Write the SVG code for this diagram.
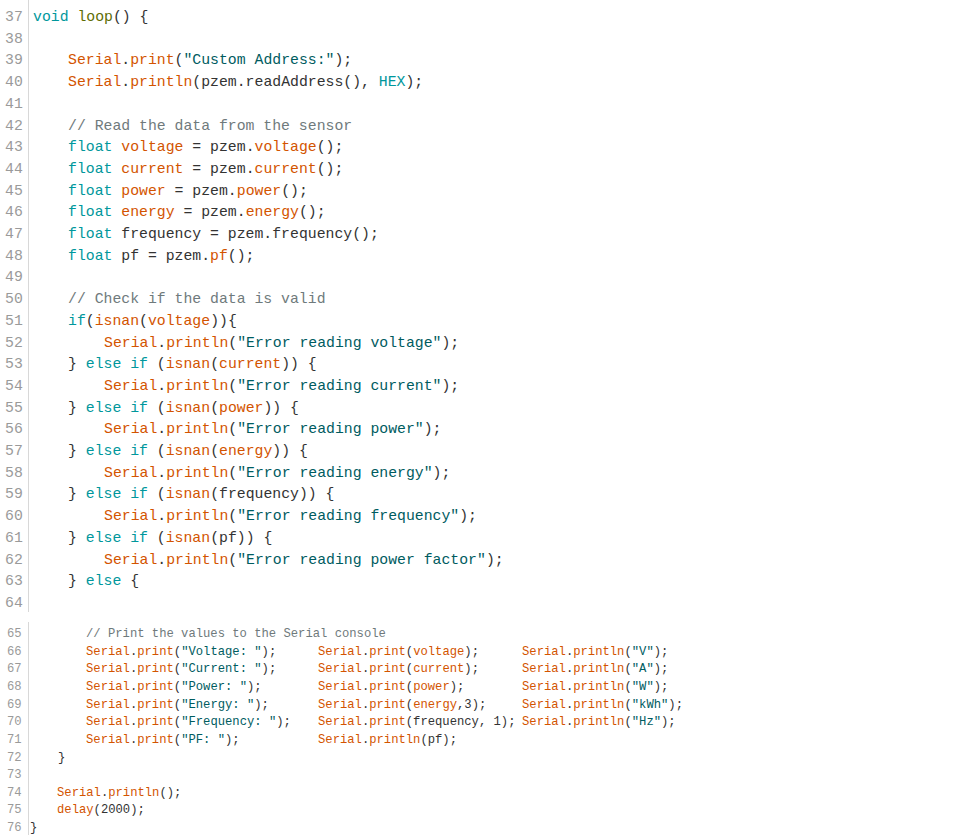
<svg xmlns="http://www.w3.org/2000/svg" width="975" height="835" viewBox="0 0 975 835">
<style>
text{font-family:"Liberation Mono","DejaVu Sans Mono",monospace;fill:#333;white-space:pre}
.t{font-size:14.8px}.b{font-size:12.2px}
.n{fill:#9a9a9a}
.k{fill:#00979C}.f{fill:#D35400}.s{fill:#005C5F}.c{fill:#6f7a7c}.l{fill:#5E6D03}
.g{stroke:#d8d8d8;stroke-width:1}
</style>
<rect width="975" height="835" fill="#fff"/>
<line class="g" x1="28.5" y1="0" x2="28.5" y2="612"/>
<line class="g" x1="28.5" y1="622" x2="28.5" y2="835"/>
<g id="linenums" class="t">
<text class="n t" x="5" y="21">37</text><text class="n t" x="5" y="42.7">38</text><text class="n t" x="5" y="64.4">39</text><text class="n t" x="5" y="86.1">40</text><text class="n t" x="5" y="107.8">41</text><text class="n t" x="5" y="129.5">42</text><text class="n t" x="5" y="151.2">43</text><text class="n t" x="5" y="172.9">44</text><text class="n t" x="5" y="194.6">45</text><text class="n t" x="5" y="216.3">46</text><text class="n t" x="5" y="238">47</text><text class="n t" x="5" y="259.7">48</text><text class="n t" x="5" y="281.4">49</text><text class="n t" x="5" y="303.1">50</text><text class="n t" x="5" y="324.8">51</text><text class="n t" x="5" y="346.5">52</text><text class="n t" x="5" y="368.2">53</text><text class="n t" x="5" y="389.9">54</text><text class="n t" x="5" y="411.6">55</text><text class="n t" x="5" y="433.3">56</text><text class="n t" x="5" y="455">57</text><text class="n t" x="5" y="476.7">58</text><text class="n t" x="5" y="498.4">59</text><text class="n t" x="5" y="520.1">60</text><text class="n t" x="5" y="541.8">61</text><text class="n t" x="5" y="563.5">62</text><text class="n t" x="5" y="585.2">63</text><text class="n t" x="5" y="606.9">64</text>
<text class="n b" x="7" y="637">65</text><text class="n b" x="7" y="654.6">66</text><text class="n b" x="7" y="672.3">67</text><text class="n b" x="7" y="689.9">68</text><text class="n b" x="7" y="707.6">69</text><text class="n b" x="7" y="725.2">70</text><text class="n b" x="7" y="742.8">71</text><text class="n b" x="7" y="760.5">72</text><text class="n b" x="7" y="778.1">73</text><text class="n b" x="7" y="795.8">74</text><text class="n b" x="7" y="813.4">75</text><text class="n b" x="7" y="831">76</text>
</g>
<g id="code-top">
<text class="t" x="33" y="21"><tspan class="k">void</tspan> <tspan class="l">loop</tspan>() {</text>
<text class="t" x="68" y="64.4"><tspan class="f">Serial</tspan>.<tspan class="f">print</tspan>(<tspan class="s">"Custom Address:"</tspan>);</text>
<text class="t" x="68" y="86.1"><tspan class="f">Serial</tspan>.<tspan class="f">println</tspan>(pzem.readAddress(), <tspan class="k">HEX</tspan>);</text>
<text class="t c" x="68" y="129.5">// Read the data from the sensor</text>
<text class="t" x="68" y="151.2"><tspan class="k">float</tspan> <tspan class="f">voltage</tspan> = pzem.<tspan class="f">voltage</tspan>();</text>
<text class="t" x="68" y="172.9"><tspan class="k">float</tspan> <tspan class="f">current</tspan> = pzem.<tspan class="f">current</tspan>();</text>
<text class="t" x="68" y="194.6"><tspan class="k">float</tspan> <tspan class="f">power</tspan> = pzem.<tspan class="f">power</tspan>();</text>
<text class="t" x="68" y="216.3"><tspan class="k">float</tspan> <tspan class="f">energy</tspan> = pzem.<tspan class="f">energy</tspan>();</text>
<text class="t" x="68" y="238"><tspan class="k">float</tspan> frequency = pzem.frequency();</text>
<text class="t" x="68" y="259.7"><tspan class="k">float</tspan> pf = pzem.<tspan class="f">pf</tspan>();</text>
<text class="t c" x="68" y="303.1">// Check if the data is valid</text>
<text class="t" x="68" y="324.8"><tspan class="k">if</tspan>(<tspan class="f">isnan</tspan>(<tspan class="f">voltage</tspan>)){</text>
<text class="t" x="104" y="346.5"><tspan class="f">Serial</tspan>.<tspan class="f">println</tspan>(<tspan class="s">"Error reading voltage"</tspan>);</text>
<text class="t" x="68" y="368.2">} <tspan class="k">else</tspan> <tspan class="k">if</tspan> (<tspan class="f">isnan</tspan>(<tspan class="f">current</tspan>)) {</text>
<text class="t" x="104" y="389.9"><tspan class="f">Serial</tspan>.<tspan class="f">println</tspan>(<tspan class="s">"Error reading current"</tspan>);</text>
<text class="t" x="68" y="411.6">} <tspan class="k">else</tspan> <tspan class="k">if</tspan> (<tspan class="f">isnan</tspan>(<tspan class="f">power</tspan>)) {</text>
<text class="t" x="104" y="433.3"><tspan class="f">Serial</tspan>.<tspan class="f">println</tspan>(<tspan class="s">"Error reading power"</tspan>);</text>
<text class="t" x="68" y="455">} <tspan class="k">else</tspan> <tspan class="k">if</tspan> (<tspan class="f">isnan</tspan>(<tspan class="f">energy</tspan>)) {</text>
<text class="t" x="104" y="476.7"><tspan class="f">Serial</tspan>.<tspan class="f">println</tspan>(<tspan class="s">"Error reading energy"</tspan>);</text>
<text class="t" x="68" y="498.4">} <tspan class="k">else</tspan> <tspan class="k">if</tspan> (<tspan class="f">isnan</tspan>(frequency)) {</text>
<text class="t" x="104" y="520.1"><tspan class="f">Serial</tspan>.<tspan class="f">println</tspan>(<tspan class="s">"Error reading frequency"</tspan>);</text>
<text class="t" x="68" y="541.8">} <tspan class="k">else</tspan> <tspan class="k">if</tspan> (<tspan class="f">isnan</tspan>(pf)) {</text>
<text class="t" x="104" y="563.5"><tspan class="f">Serial</tspan>.<tspan class="f">println</tspan>(<tspan class="s">"Error reading power factor"</tspan>);</text>
<text class="t" x="68" y="585.2">} <tspan class="k">else</tspan> {</text>
</g>
<g id="code-bottom">
<text class="b c" x="86" y="637">// Print the values to the Serial console</text>
<text class="b" x="86" y="654.6"><tspan class="f">Serial</tspan>.<tspan class="f">print</tspan>(<tspan class="s">"Voltage: "</tspan>);</text>
<text class="b" x="318" y="654.6"><tspan class="f">Serial</tspan>.<tspan class="f">print</tspan>(<tspan class="f">voltage</tspan>);</text>
<text class="b" x="522" y="654.6"><tspan class="f">Serial</tspan>.<tspan class="f">println</tspan>(<tspan class="s">"V"</tspan>);</text>
<text class="b" x="86" y="672.3"><tspan class="f">Serial</tspan>.<tspan class="f">print</tspan>(<tspan class="s">"Current: "</tspan>);</text>
<text class="b" x="318" y="672.3"><tspan class="f">Serial</tspan>.<tspan class="f">print</tspan>(<tspan class="f">current</tspan>);</text>
<text class="b" x="522" y="672.3"><tspan class="f">Serial</tspan>.<tspan class="f">println</tspan>(<tspan class="s">"A"</tspan>);</text>
<text class="b" x="86" y="689.9"><tspan class="f">Serial</tspan>.<tspan class="f">print</tspan>(<tspan class="s">"Power: "</tspan>);</text>
<text class="b" x="318" y="689.9"><tspan class="f">Serial</tspan>.<tspan class="f">print</tspan>(<tspan class="f">power</tspan>);</text>
<text class="b" x="522" y="689.9"><tspan class="f">Serial</tspan>.<tspan class="f">println</tspan>(<tspan class="s">"W"</tspan>);</text>
<text class="b" x="86" y="707.6"><tspan class="f">Serial</tspan>.<tspan class="f">print</tspan>(<tspan class="s">"Energy: "</tspan>);</text>
<text class="b" x="318" y="707.6"><tspan class="f">Serial</tspan>.<tspan class="f">print</tspan>(<tspan class="f">energy</tspan>,3);</text>
<text class="b" x="522" y="707.6"><tspan class="f">Serial</tspan>.<tspan class="f">println</tspan>(<tspan class="s">"kWh"</tspan>);</text>
<text class="b" x="86" y="725.2"><tspan class="f">Serial</tspan>.<tspan class="f">print</tspan>(<tspan class="s">"Frequency: "</tspan>);</text>
<text class="b" x="318" y="725.2"><tspan class="f">Serial</tspan>.<tspan class="f">print</tspan>(frequency, 1);</text>
<text class="b" x="522" y="725.2"><tspan class="f">Serial</tspan>.<tspan class="f">println</tspan>(<tspan class="s">"Hz"</tspan>);</text>
<text class="b" x="86" y="742.8"><tspan class="f">Serial</tspan>.<tspan class="f">print</tspan>(<tspan class="s">"PF: "</tspan>);</text>
<text class="b" x="318" y="742.8"><tspan class="f">Serial</tspan>.<tspan class="f">println</tspan>(pf);</text>
<text class="b" x="58" y="760.5">}</text>
<text class="b" x="57" y="795.8"><tspan class="f">Serial</tspan>.<tspan class="f">println</tspan>();</text>
<text class="b" x="57" y="813.4"><tspan class="f">delay</tspan>(2000);</text>
<text class="b" x="30" y="831">}</text>
</g>
</svg>
